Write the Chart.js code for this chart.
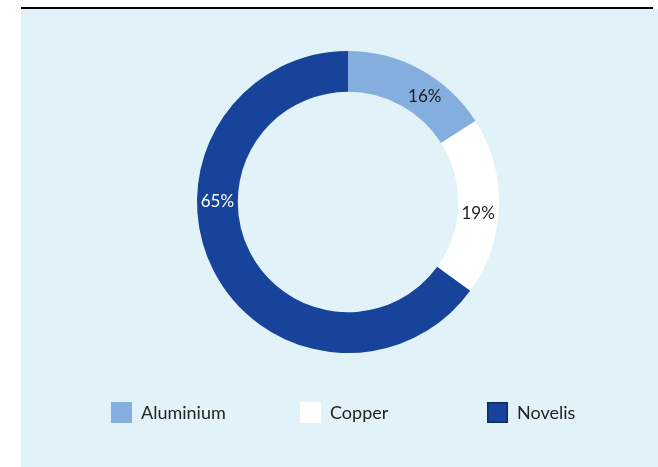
<!DOCTYPE html>
<html>
<head>
<meta charset="utf-8">
<script src="https://cdn.jsdelivr.net/npm/chart.js@4.4.0/dist/chart.umd.min.js"></script>
<style>
  html, body { margin: 0; padding: 0; background: #ffffff; }
  body { width: 658px; height: 467px; position: relative; overflow: hidden; }
  #rule { position: absolute; left: 21px; top: 7px; width: 632px; height: 2px; background: #000000; }
  #panel { position: absolute; left: 21px; top: 9px; width: 637px; height: 458px; background: #e1f2f9; }
  #panel canvas { position: absolute; left: 0; top: 0; }
</style>
</head>
<body>
<div id="rule"></div>
<div id="panel"><canvas id="donut" width="637" height="458"></canvas></div>
<script>
var categories = ['Aluminium', 'Copper', 'Novelis'];
var shares = [16, 19, 65];
var colours = ['#84aede', '#ffffff', '#17449a'];

// percentage labels sitting on the middle of the ring
var ringLabels = {
  id: 'ringLabels',
  afterDatasetsDraw: function(chart, args, opts){
    var ctx = chart.ctx;
    var meta = chart.getDatasetMeta(0);
    ctx.save();
    ctx.font = '17px Lato';
    ctx.textAlign = 'center';
    ctx.textBaseline = 'middle';
    for(var i = 0; i < meta.data.length; i++){
      var arc = meta.data[i];
      var r = (arc.innerRadius + arc.outerRadius) / 2;
      var a = (opts.angles[i] - 90) * Math.PI / 180;
      ctx.fillStyle = opts.colors[i];
      ctx.fillText(chart.data.datasets[0].data[i] + '%', arc.x + r * Math.cos(a), arc.y + r * Math.sin(a));
    }
    ctx.restore();
  }
};

// legend laid out in fixed columns under the ring
var columnLegend = {
  id: 'columnLegend',
  afterDraw: function(chart, args, opts){
    var ctx = chart.ctx;
    var ds = chart.data.datasets[0];
    ctx.save();
    ctx.font = '18px Lato';
    ctx.textBaseline = 'middle';
    for(var i = 0; i < chart.data.labels.length; i++){
      var x = opts.columns[i];
      ctx.fillStyle = ds.backgroundColor[i];
      ctx.fillRect(x, opts.top, opts.box, opts.box);
      if(opts.borders[i]){
        ctx.strokeStyle = opts.borders[i];
        ctx.lineWidth = 1.5;
        ctx.strokeRect(x + 0.75, opts.top + 0.75, opts.box - 1.5, opts.box - 1.5);
      }
      ctx.fillStyle = '#222222';
      ctx.fillText(chart.data.labels[i], x + opts.box + 9, opts.top + opts.box / 2 + 1);
    }
    ctx.restore();
  }
};

new Chart(document.getElementById('donut').getContext('2d'), {
  type: 'doughnut',
  data: {
    labels: categories,
    datasets: [{
      data: shares,
      backgroundColor: colours,
      borderWidth: 0
    }]
  },
  options: {
    responsive: false,
    animation: false,
    cutout: '73%',
    layout: {padding: {top: 42, bottom: 114, left: 176, right: 159}},
    plugins: {
      legend: {display: false},
      tooltip: {enabled: false},
      ringLabels: {angles: [36, 95, 270], colors: ['#1d1d1b', '#1d1d1b', '#ffffff']},
      columnLegend: {columns: [90, 279, 466], top: 393, box: 21, borders: [null, null, '#0f2a5c']}
    }
  },
  plugins: [ringLabels, columnLegend]
});
</script>
</body>
</html>
